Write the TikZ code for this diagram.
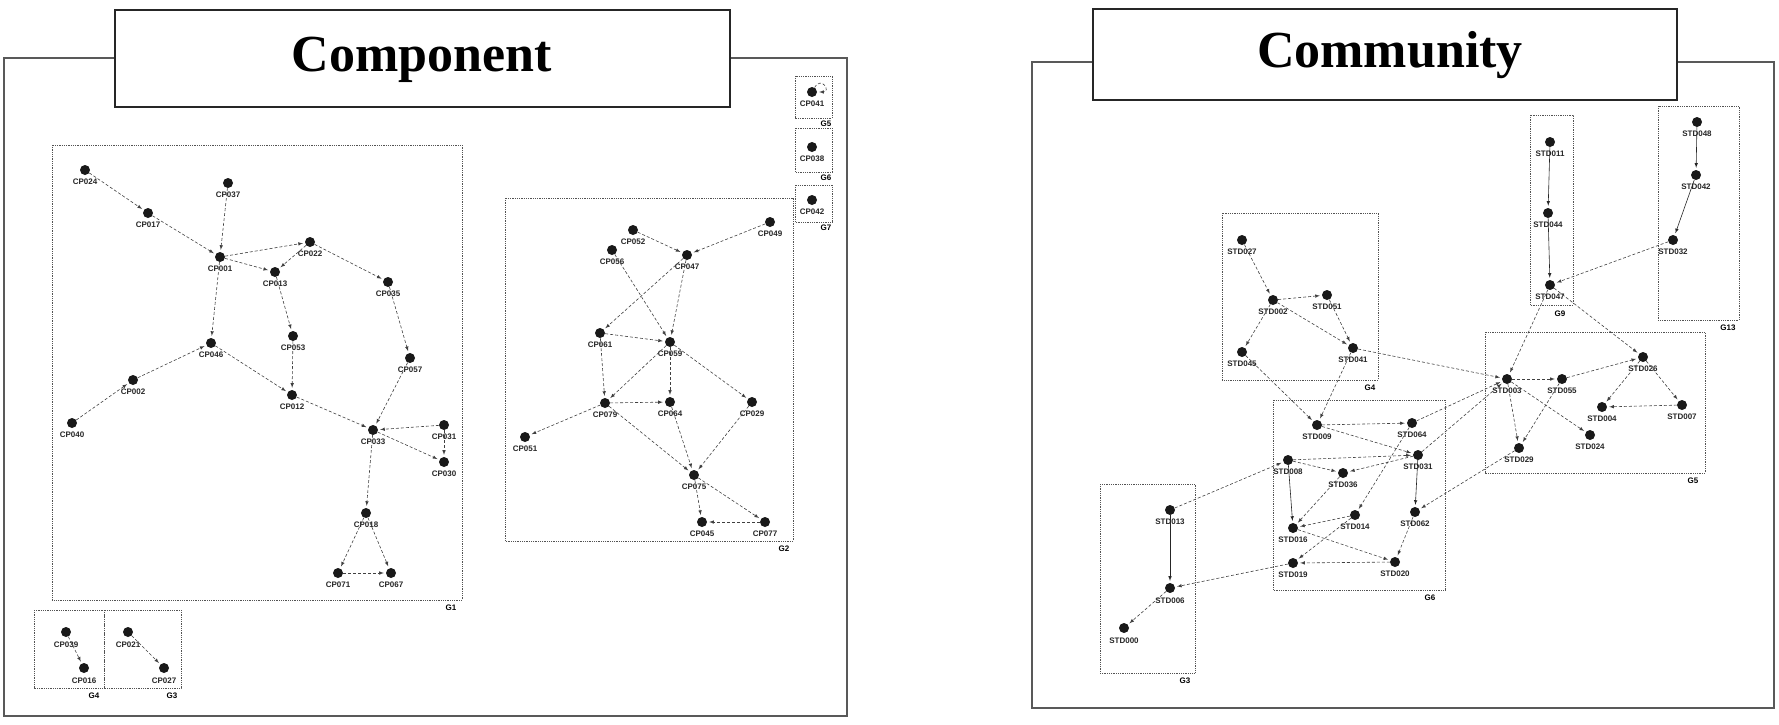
\documentclass[tikz,border=0pt]{standalone}
\usepackage{fontspec}
\setmainfont{Liberation Serif}
\setsansfont{Liberation Sans}
\tikzset{
  >=latex,
}
\tikzstyle{dot}=[circle,fill=black!90,inner sep=0pt,minimum size=10pt]
\tikzstyle{every label}=[font=\sffamily\bfseries\fontsize{8}{8}\selectfont,inner sep=1pt,text=black!85]
\tikzstyle{link}=[densely dashed,gray!50!black,->,shorten >=2pt,semithick]
\tikzstyle{slink}=[gray!30!black,->,shorten >=2pt,semithick]
\tikzstyle{grp}=[densely dotted,thick,gray!65!black]
\tikzstyle{glab}=[font=\sffamily\bfseries\fontsize{8}{8}\selectfont]
\tikzstyle{panel}=[gray!70!black,line width=1.5pt]
\tikzstyle{titlebox}=[draw=black!85,line width=1.8pt,fill=white]

\begin{document}
\begin{tikzpicture}[x=1pt,y=-1pt,label distance=3pt]
    \useasboundingbox (0,0) rectangle (1779,724);
    % component
    \draw[panel] (4,58) rectangle (847,716);
    \draw[titlebox] (115,10) rectangle (730,107);
    \node[font=\bfseries\fontsize{52}{60}\selectfont] (comp) at (422,60) {Component};
    \draw[grp] (52,145) rectangle (462,600);
    \node[glab] (g1) at (451,608) {G1};
    \draw[grp] (505,198) rectangle (793,541);
    \node[glab] (g2) at (784,549) {G2};
    \draw[grp] (795,76) rectangle (832,118);
    \node[glab] (g5) at (826,124) {G5};
    \draw[grp] (795,128) rectangle (832,172);
    \node[glab] (g6) at (826,178) {G6};
    \draw[grp] (795,185) rectangle (832,222);
    \node[glab] (g7) at (826,228) {G7};
    \draw[grp] (34,610) rectangle (104,688);
    \node[glab] (g4) at (94,696) {G4};
    \draw[grp] (104,610) rectangle (181,688);
    \node[glab] (g3) at (172,696) {G3};

    \node[dot,label=below:CP024] (cp024) at (85,170) {};
    \node[dot,label=below:CP017] (cp017) at (148,213) {};
    \node[dot,label=below:CP037] (cp037) at (228,183) {};
    \node[dot,label=below:CP001] (cp001) at (220,257) {};
    \node[dot,label=below:CP022] (cp022) at (310,242) {};
    \node[dot,label=below:CP013] (cp013) at (275,272) {};
    \node[dot,label=below:CP035] (cp035) at (388,282) {};
    \node[dot,label=below:CP046] (cp046) at (211,343) {};
    \node[dot,label=below:CP053] (cp053) at (293,336) {};
    \node[dot,label=below:CP057] (cp057) at (410,358) {};
    \node[dot,label=below:CP002] (cp002) at (133,380) {};
    \node[dot,label=below:CP040] (cp040) at (72,423) {};
    \node[dot,label=below:CP012] (cp012) at (292,395) {};
    \node[dot,label=below:CP033] (cp033) at (373,430) {};
    \node[dot,label=below:CP031] (cp031) at (444,425) {};
    \node[dot,label=below:CP030] (cp030) at (444,462) {};
    \node[dot,label=below:CP018] (cp018) at (366,513) {};
    \node[dot,label=below:CP071] (cp071) at (338,573) {};
    \node[dot,label=below:CP067] (cp067) at (391,573) {};

    \node[dot,label=below:CP052] (cp052) at (633,230) {};
    \node[dot,label=below:CP056] (cp056) at (612,250) {};
    \node[dot,label=below:CP047] (cp047) at (687,255) {};
    \node[dot,label=below:CP049] (cp049) at (770,222) {};
    \node[dot,label=below:CP061] (cp061) at (600,333) {};
    \node[dot,label=below:CP059] (cp059) at (670,342) {};
    \node[dot,label=below:CP079] (cp079) at (605,403) {};
    \node[dot,label=below:CP064] (cp064) at (670,402) {};
    \node[dot,label=below:CP051] (cp051) at (525,437) {};
    \node[dot,label=below:CP029] (cp029) at (752,402) {};
    \node[dot,label=below:CP075] (cp075) at (694,475) {};
    \node[dot,label=below:CP045] (cp045) at (702,522) {};
    \node[dot,label=below:CP077] (cp077) at (765,522) {};

    \node[dot,label=below:CP041] (cp041) at (812,92) {};
    \node[dot,label=below:CP038] (cp038) at (812,147) {};
    \node[dot,label=below:CP042] (cp042) at (812,200) {};
    \node[dot,label=below:CP039] (cp039) at (66,632) {};
    \node[dot,label=below:CP016] (cp016) at (84,668) {};
    \node[dot,label=below:CP021] (cp021) at (128,632) {};
    \node[dot,label=below:CP027] (cp027) at (164,668) {};

    \draw[link] (cp024) edge (cp017) (cp017) edge (cp001) (cp037) edge (cp001)
      (cp001) edge (cp022) (cp001) edge (cp013) (cp022) edge (cp013)
      (cp022) edge (cp035) (cp001) edge (cp046) (cp013) edge (cp053)
      (cp002) edge (cp046) (cp040) edge (cp002) (cp046) edge (cp012)
      (cp053) edge (cp012) (cp035) edge (cp057) (cp057) edge (cp033)
      (cp012) edge (cp033) (cp031) edge (cp033) (cp033) edge (cp030)
      (cp031) edge (cp030) (cp033) edge (cp018) (cp018) edge (cp071)
      (cp018) edge (cp067) (cp071) edge (cp067);
    \draw[link] (cp052) edge (cp047) (cp056) edge (cp059) (cp049) edge (cp047)
      (cp047) edge (cp061) (cp047) edge (cp059) (cp061) edge (cp059)
      (cp061) edge (cp079) (cp059) edge (cp079) (cp079) edge (cp064)
      (cp059) edge (cp064) (cp079) edge (cp051) (cp079) edge (cp075)
      (cp064) edge (cp075) (cp059) edge (cp029) (cp029) edge (cp075)
      (cp075) edge (cp045) (cp075) edge (cp077) (cp077) edge (cp045);
    \draw[link] (cp041) edge[out=60,in=0,min distance=14pt] (cp041)
      (cp039) edge (cp016) (cp021) edge (cp027);

    % community
    \draw[panel] (1032,62) rectangle (1774,708);
    \draw[titlebox] (1093,9) rectangle (1677,100);
    \node[font=\bfseries\fontsize{52}{60}\selectfont] (comm) at (1390,55) {Community};
    \draw[grp] (1658,106) rectangle (1739,320);
    \node[glab] (g13) at (1728,328) {G13};
    \draw[grp] (1530,115) rectangle (1573,305);
    \node[glab] (g9) at (1560,314) {G9};
    \draw[grp] (1222,213) rectangle (1378,380);
    \node[glab] (cg4) at (1370,388) {G4};
    \draw[grp] (1273,400) rectangle (1445,590);
    \node[glab] (cg6) at (1430,598) {G6};
    \draw[grp] (1485,332) rectangle (1705,473);
    \node[glab] (cg5) at (1693,481) {G5};
    \draw[grp] (1100,484) rectangle (1195,673);
    \node[glab] (cg3) at (1185,681) {G3};

    \node[dot,label=below:STD048] (std048) at (1697,122) {};
    \node[dot,label=below:STD042] (std042) at (1696,175) {};
    \node[dot,label=below:STD032] (std032) at (1673,240) {};
    \node[dot,label=below:STD011] (std011) at (1550,142) {};
    \node[dot,label=below:STD044] (std044) at (1548,213) {};
    \node[dot,label=below:STD047] (std047) at (1550,285) {};
    \node[dot,label=below:STD027] (std027) at (1242,240) {};
    \node[dot,label=below:STD002] (std002) at (1273,300) {};
    \node[dot,label=below:STD051] (std051) at (1327,295) {};
    \node[dot,label=below:STD045] (std045) at (1242,352) {};
    \node[dot,label=below:STD041] (std041) at (1353,348) {};
    \node[dot,label=below:STD009] (std009) at (1317,425) {};
    \node[dot,label=below:STD064] (std064) at (1412,423) {};
    \node[dot,label=below:STD008] (std008) at (1288,460) {};
    \node[dot,label=below:STD036] (std036) at (1343,473) {};
    \node[dot,label=below:STD031] (std031) at (1418,455) {};
    \node[dot,label=below:STD014] (std014) at (1355,515) {};
    \node[dot,label=below:STD016] (std016) at (1293,528) {};
    \node[dot,label=below:STD062] (std062) at (1415,512) {};
    \node[dot,label=below:STD019] (std019) at (1293,563) {};
    \node[dot,label=below:STD020] (std020) at (1395,562) {};
    \node[dot,label=below:STD003] (std003) at (1507,379) {};
    \node[dot,label=below:STD055] (std055) at (1562,379) {};
    \node[dot,label=below:STD026] (std026) at (1643,357) {};
    \node[dot,label=below:STD004] (std004) at (1602,407) {};
    \node[dot,label=below:STD007] (std007) at (1682,405) {};
    \node[dot,label=below:STD024] (std024) at (1590,435) {};
    \node[dot,label=below:STD029] (std029) at (1519,448) {};
    \node[dot,label=below:STD013] (std013) at (1170,510) {};
    \node[dot,label=below:STD006] (std006) at (1170,588) {};
    \node[dot,label=below:STD000] (std000) at (1124,628) {};

    \draw[slink] (std048) edge (std042) (std042) edge (std032)
      (std011) edge (std044) (std044) edge (std047)
      (std013) edge (std006) (std008) edge (std016) (std031) edge (std062);
    \draw[link] (std032) edge (std047) (std047) edge (std003) (std047) edge (std026)
      (std027) edge (std002) (std002) edge (std051) (std002) edge (std045)
      (std002) edge (std041) (std051) edge (std041) (std045) edge (std009)
      (std041) edge (std009) (std041) edge (std003) (std003) edge (std055)
      (std055) edge (std026) (std026) edge (std004) (std026) edge (std007)
      (std007) edge (std004) (std003) edge (std024) (std003) edge (std029)
      (std055) edge (std029) (std029) edge (std062) (std064) edge (std003)
      (std031) edge (std003);
    \draw[link] (std009) edge (std064) (std009) edge (std031) (std008) edge (std031)
      (std008) edge (std036) (std031) edge (std036) (std036) edge (std016)
      (std064) edge (std014) (std014) edge (std016) (std016) edge (std020)
      (std014) edge (std019) (std020) edge (std019) (std062) edge (std020)
      (std013) edge (std008) (std019) edge (std006) (std006) edge (std000);
  \end{tikzpicture}
\end{document}
